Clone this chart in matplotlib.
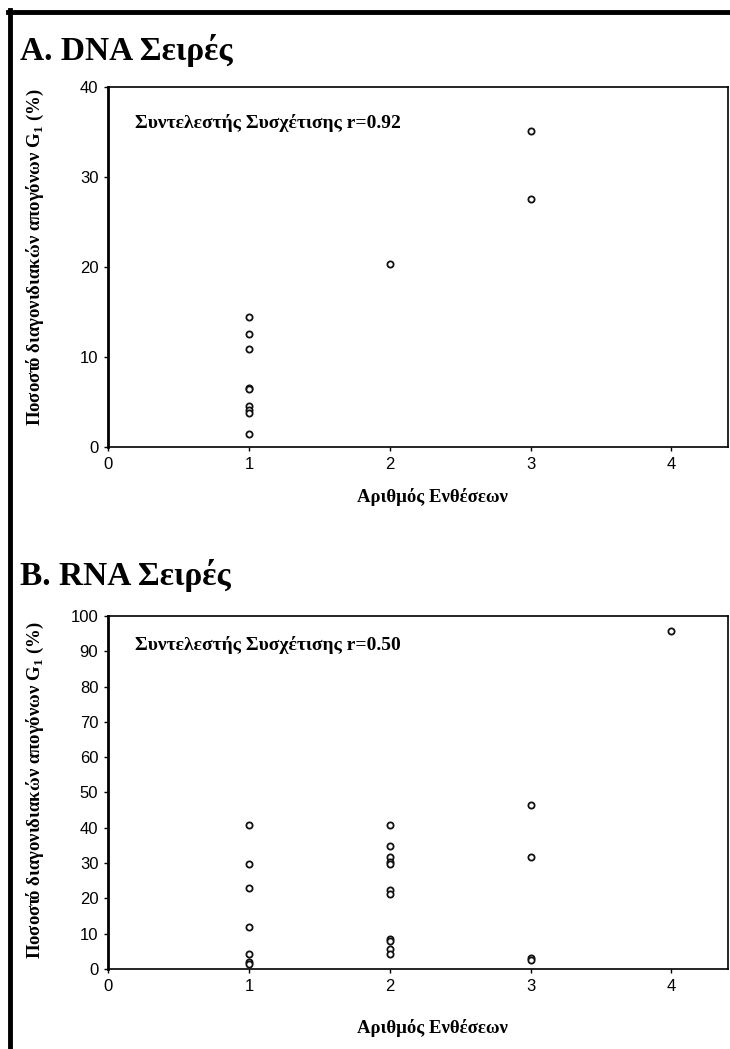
import matplotlib
matplotlib.use("Agg")
import matplotlib.pyplot as plt
from matplotlib.lines import Line2D

plt.rcParams["mathtext.fontset"] = "custom"
plt.rcParams["mathtext.rm"] = "Liberation Serif:bold"
plt.rcParams["mathtext.bf"] = "Liberation Serif:bold"

# panel A: DNA lines
dna_inserts = [1, 1, 1, 1, 1, 1, 1, 1, 1, 2, 3, 3]
dna_g1 = [14.4, 12.6, 10.9, 6.6, 6.4, 4.6, 4.1, 3.8, 1.4, 20.3, 35.1, 27.6]

# panel B: RNA lines
rna_inserts = [1, 1, 1, 1, 1, 1, 1,
               2, 2, 2, 2, 2, 2, 2, 2, 2, 2, 2,
               3, 3, 3, 3, 4]
rna_g1 = [40.7, 29.8, 22.8, 11.8, 4.2, 1.9, 1.4,
          40.7, 34.9, 31.7, 30.2, 29.6, 22.3, 21.3, 8.5, 7.8, 5.6, 4.2,
          46.5, 31.6, 3.0, 2.4, 95.8]

x_ticks = [0, 1, 2, 3, 4]
dna_yticks = [0, 10, 20, 30, 40]
rna_yticks = list(range(0, 101, 10))

titles = ["A. DNA Σειρές", "B. RNA Σειρές"]
corr_labels = ["Συντελεστής Συσχέτισης r=0.92", "Συντελεστής Συσχέτισης r=0.50"]
xlabel = "Αριθμός Ενθέσεων"
ylabel = r"Ποσοστό διαγονιδιακών απογόνων G$_{1}$ (%)"

serif = "Liberation Serif"
sans = "Liberation Sans"

fig = plt.figure(figsize=(7.3, 10.49), dpi=100)

# outer frame (left and top edge)
fig.add_artist(Line2D([0.0137, 0.0137], [0.0, 0.990], color="black", lw=3.5,
                      transform=fig.transFigure))
fig.add_artist(Line2D([0.0115, 1.0], [0.989, 0.989], color="black", lw=3.5,
                      transform=fig.transFigure))

panels = [
    (dna_inserts, dna_g1, dna_yticks, 40, [0.148, 0.5739, 0.849, 0.3432],
     0.952, 0.883, -0.139, 0.755),
    (rna_inserts, rna_g1, rna_yticks, 100, [0.148, 0.0763, 0.849, 0.3365],
     0.451, 0.385, -0.167, 0.247),
]

for i, (xs, ys, yticks, ymax, pos, ty, cy, xly, yly) in enumerate(panels):
    ax = fig.add_axes(pos)
    ax.scatter(xs, ys, s=20, facecolors="white", edgecolors="#111111",
               linewidths=1.3, zorder=3)
    ax.set_xlim(0, 4.4)
    ax.set_ylim(0, ymax)
    ax.set_xticks(x_ticks)
    ax.set_yticks(yticks)
    ax.tick_params(direction="out", length=3, width=1, labelsize=12,
                   pad=4, colors="black")
    for lab in ax.get_xticklabels() + ax.get_yticklabels():
        lab.set_family(sans)
    for side in ["top", "right", "bottom"]:
        ax.spines[side].set_linewidth(1.2)
    ax.spines["left"].set_linewidth(2)

    fig.text(0.027, ty, titles[i], fontsize=24, fontweight="bold",
             family=serif, ha="left", va="center")
    fig.text(0.185, cy, corr_labels[i], fontsize=14, fontweight="bold",
             family=serif, ha="left", va="center")
    ax.text(2.3, xly, xlabel, transform=ax.get_xaxis_transform(),
            fontsize=13.5, fontweight="bold", family=serif, ha="center",
            va="center")
    fig.text(0.048, yly, ylabel, rotation=90, fontsize=13.5,
             fontweight="bold", family=serif, ha="center", va="center")

fig.savefig("out.png", dpi=100)
